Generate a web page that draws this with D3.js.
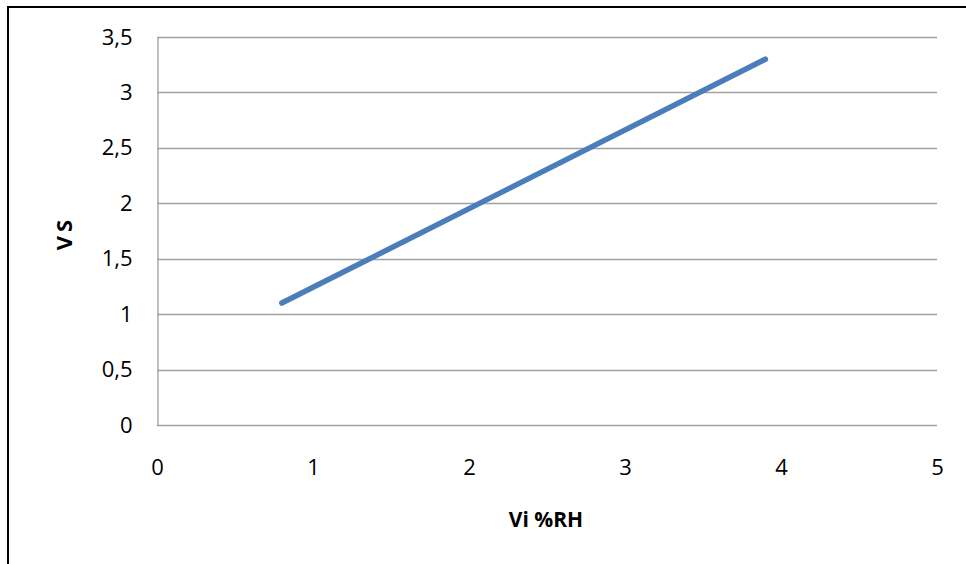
<!DOCTYPE html>
<html><head><meta charset="utf-8">
<script src="https://cdn.jsdelivr.net/npm/d3@7"></script>
<style>body{margin:0;background:#fff}svg{display:block}</style>
</head><body>
<script>
const xValues = [0.8, 3.9];
const yValues = [1.1, 3.3];
const xTicks = [0, 1, 2, 3, 4, 5];
const yTicks = [0, 0.5, 1, 1.5, 2, 2.5, 3, 3.5];
const xTitle = "Vi %RH";
const yTitle = "VS";

const W = 966, H = 564;
const svg = d3.select("body").append("svg").attr("width", W).attr("height", H);
svg.append("rect").attr("width", W).attr("height", H).attr("fill", "#fff");
// frame
svg.append("rect").attr("x", 8).attr("y", 7).attr("width", 1000).attr("height", 1000)
  .attr("fill", "none").attr("stroke", "#000").attr("stroke-width", 2);

const x = d3.scaleLinear().domain([0, 5]).range([157, 937]);
const y = d3.scaleLinear().domain([0, 3.5]).range([425, 37]);
const font = "'Open Sans', sans-serif";
const fs = 22;

// gridlines
svg.append("g").selectAll("line").data(yTicks).join("line")
  .attr("x1", x(0)).attr("x2", x(5)).attr("y1", d => Math.round(y(d)) + 0.5).attr("y2", d => Math.round(y(d)) + 0.5)
  .attr("stroke", "#a0a0a0").attr("stroke-width", 1.3);

const yAxis = d3.axisLeft(y).tickValues(yTicks).tickSize(0).tickPadding(25)
  .tickFormat(d => String(d).replace(".", ","));
const gy = svg.append("g").attr("transform", `translate(${x(0)+0.5},0)`).call(yAxis);
gy.select(".domain").attr("stroke", "#a0a0a0").attr("stroke-width", 1.3);
gy.selectAll("text").attr("font-family", font).attr("font-size", fs).attr("fill", "#000");

const xAxis = d3.axisBottom(x).tickValues(xTicks).tickSize(0).tickPadding(34).tickFormat(d3.format("d"));
const gx = svg.append("g").attr("transform", `translate(0,${y(0)})`).call(xAxis);
gx.select(".domain").remove();
gx.selectAll("text").attr("font-family", font).attr("font-size", fs).attr("fill", "#000");

const pts = xValues.map((v, i) => [v, yValues[i]]);
svg.append("path").datum(pts)
  .attr("d", d3.line().x(d => x(d[0])).y(d => y(d[1])))
  .attr("fill", "none").attr("stroke", "#4a7ebb").attr("stroke-width", 5.5).attr("stroke-linecap", "round");

svg.append("text").attr("x", 546).attr("y", 527).attr("text-anchor", "middle")
  .attr("font-family", font).attr("font-weight", "bold").attr("font-size", 21).text(xTitle);
svg.append("text").attr("transform", "translate(72,233) rotate(-90)").attr("text-anchor", "middle")
  .attr("font-family", font).attr("font-weight", "bold").attr("font-size", 22)
  .attr("letter-spacing", 4).text(yTitle);
</script>
</body></html>
